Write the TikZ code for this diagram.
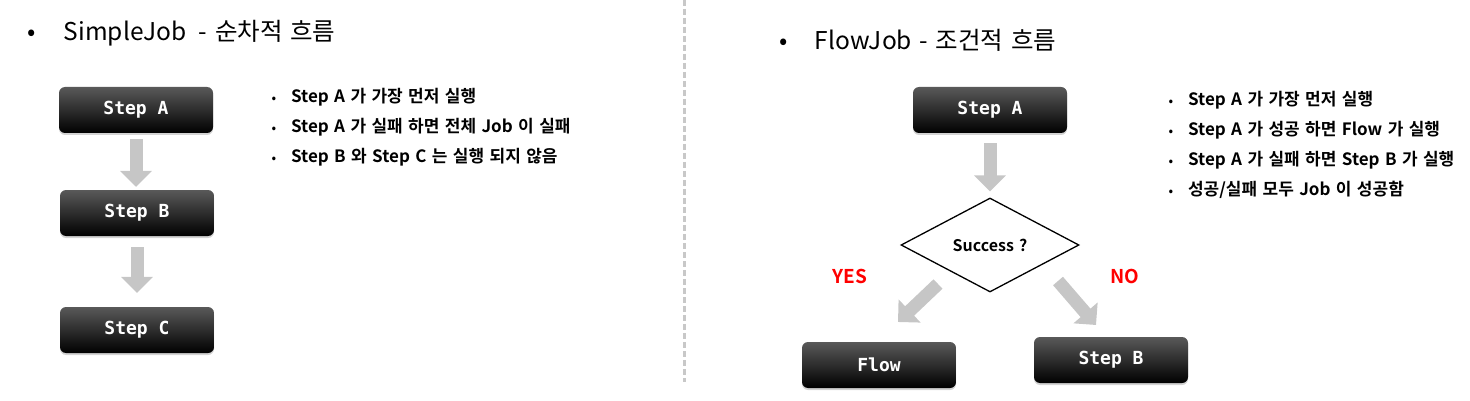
\documentclass[tikz,border=0pt]{standalone}
\usepackage{fontspec}
\setmainfont{Noto Sans CJK KR}[BoldFont={Noto Sans CJK KR Bold}, WordSpace=1.4]
\newfontfamily\stepfont{DejaVu Sans Mono Bold}
\usetikzlibrary{positioning,calc,shapes.geometric,arrows.meta,shadows}
\definecolor{arrowgray}{RGB}{198,198,198}
\definecolor{linegray}{RGB}{200,200,200}
\tikzset{
  stepbox/.style={rounded corners=6pt, minimum width=154pt, minimum height=46pt,
    top color=black!65, middle color=black, bottom color=black, text=white,
    font=\stepfont\fontsize{18}{20}\selectfont,
    drop shadow={shadow xshift=0pt, shadow yshift=-2pt, opacity=0.35}},
  blockarrow/.style={line width=13pt, arrowgray, -{Triangle[width=31pt,length=16pt]}},
  decision/.style={diamond, draw, line width=1.3pt, aspect=1.9, inner sep=0pt,
    minimum width=178pt, minimum height=94pt, font=\fontsize{16}{18}\selectfont\bfseries},
  title/.style={anchor=west, font=\fontsize{24.5}{28}\selectfont},
  item/.style={anchor=west, font=\fontsize{17}{20}\selectfont\bfseries},
  answer/.style={text=red, font=\fontsize{19}{22}\selectfont\bfseries}
}
\newcommand{\dotitem}{{\fontsize{12}{12}\selectfont•}\hspace{15pt}}
\begin{document}
\begin{tikzpicture}[x=1pt, y=-1pt]
    \useasboundingbox (0,0) rectangle (1470,401);
    % separator
    \draw[linegray, line width=3pt, dash pattern=on 6pt off 3pt] (684,0) -- (684,382);

    % SimpleJob
    \begin{scope}
        \node[title] (t1) at (24,33) {•\hspace{28pt}SimpleJob\hspace{5pt} - 순차적 흐름};
        \node[stepbox] (sa) at (136,110) {Step A};
        \node[stepbox] (sb) at (137,213) {Step B};
        \node[stepbox] (sc) at (137,330) {Step C};
        \draw[blockarrow, shorten <=6pt, shorten >=3pt] (sa.south) -- (sa.south |- sb.north);
        \draw[blockarrow, shorten <=11pt, shorten >=14pt] (sb.south) -- (sb.south |- sc.north);
        % notes
        \node[item] (l1) at (268,97) {\dotitem Step A 가 가장 먼저 실행};
        \node[item] (l2) at (268,127) {\dotitem Step A 가 실패 하면 전체 Job 이 실패};
        \node[item] (l3) at (268,157) {\dotitem Step B 와 Step C 는 실행 되지 않음};
    \end{scope}

    % FlowJob
    \begin{scope}
        \node[title] (t2) at (776,40) {•\hspace{27pt}FlowJob - 조건적 흐름};
        \node[stepbox] (ra) at (990,110) {Step A};
        \node[decision] (dec) at (990,245) {Success ?};
        \node[stepbox] (flow) at (879,365) {Flow};
        \node[stepbox] (rb) at (1111,360) {Step B};
        \draw[blockarrow, shorten <=10pt, shorten >=6pt] (ra.south) -- (dec.north);
        \coordinate (yesT) at (938,284);
        \coordinate (yesH) at (898,322);
        \coordinate (noT) at (1058,281);
        \coordinate (noH) at (1096,325);
        \draw[blockarrow] (yesT) -- (yesH);
        \draw[blockarrow] (noT) -- (noH);
        \node[answer] (yes) at (850,276) {YES};
        \node[answer] (no) at (1125,276) {NO};
        % notes
        \node[item] (r1) at (1165,100) {\dotitem Step A 가 가장 먼저 실행};
        \node[item] (r2) at (1165,130) {\dotitem Step A 가 성공 하면 Flow 가 실행};
        \node[item] (r3) at (1165,160) {\dotitem Step A 가 실패 하면 Step B 가 실행};
        \node[item] (r4) at (1165,190) {\dotitem 성공/실패 모두 Job 이 성공함};
    \end{scope}
\end{tikzpicture}
\end{document}
